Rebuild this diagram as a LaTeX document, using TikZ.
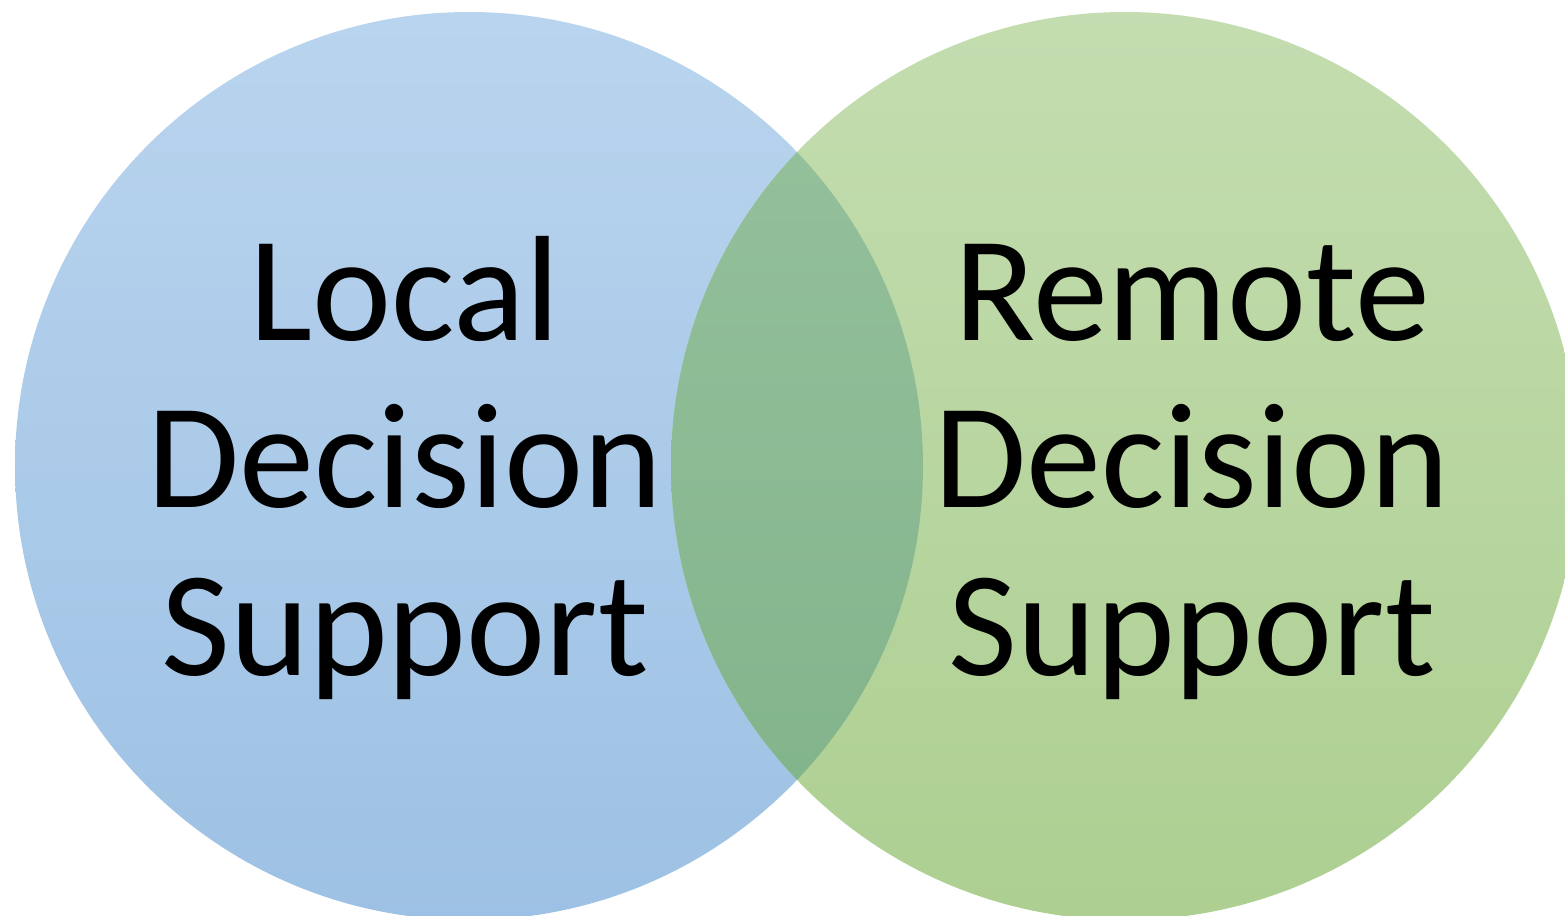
\documentclass[tikz,border=0pt]{standalone}
\usepackage{fontspec}
\setmainfont{Carlito}
\definecolor{blueTop}{HTML}{B9D4EE}
\definecolor{blueBot}{HTML}{9DC1E4}
\definecolor{greenTop}{HTML}{C4DDB0}
\definecolor{greenBot}{HTML}{ADCF91}
\definecolor{mixTop}{HTML}{97C29D}
\definecolor{mixBot}{HTML}{7FB289}
\tikzset{
  lbl/.style={anchor=base, inner sep=0pt, font=\fontsize{75}{83}\selectfont, text=black},
}
\begin{document}
\begin{tikzpicture}[x=0.5pt,y=-0.5pt]
\useasboundingbox (0,0) rectangle (1565,916);
\begin{scope}
\clip (0,0) rectangle (1565,916);
\shade[top color=blueTop, bottom color=blueBot] (469,466) circle (454);
\shade[top color=greenTop, bottom color=greenBot] (1125,466) circle (454);
\begin{scope}
\clip (469,466) circle (454);
\shade[top color=mixTop, bottom color=mixBot] (1125,466) circle (454);
\end{scope}
\end{scope}
\node[lbl] (l1) at (405,340) {Local};
\node[lbl] (l2) at (405,507) {Decision};
\node[lbl] (l3) at (405,675) {Support};
\node[lbl] (r1) at (1192,340) {Remote};
\node[lbl] (r2) at (1192,507) {Decision};
\node[lbl] (r3) at (1192,675) {Support};
\end{tikzpicture}
\end{document}
